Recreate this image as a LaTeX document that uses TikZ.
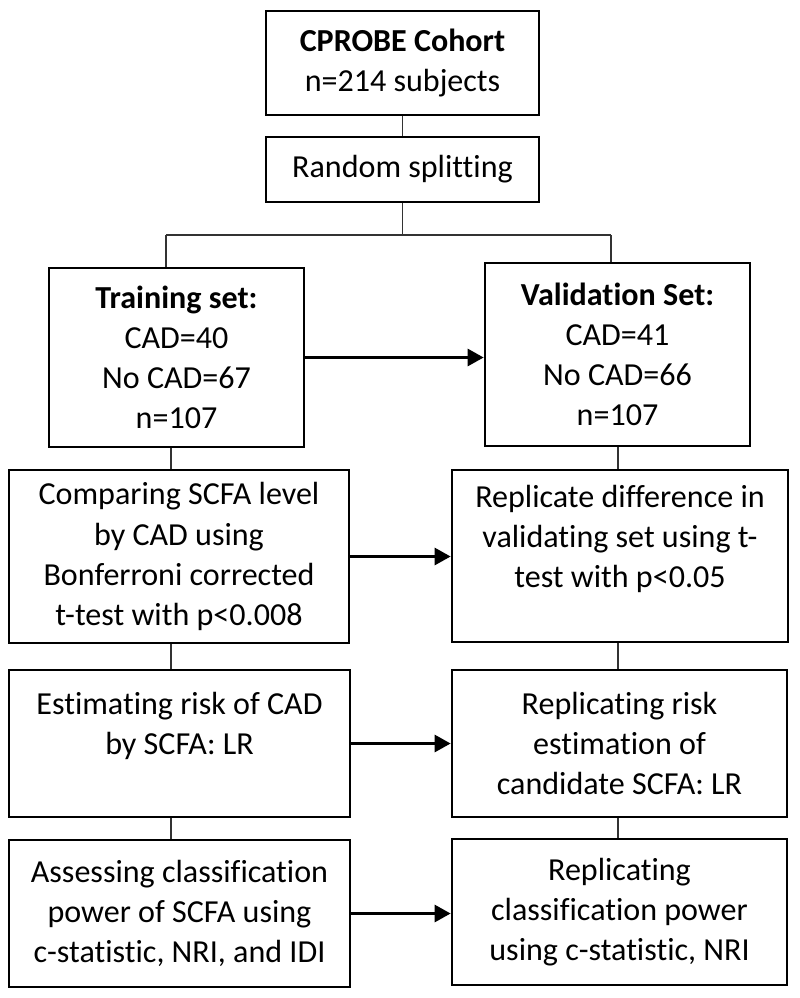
\documentclass[tikz,border=0pt]{standalone}
\usepackage{fontspec}
\setmainfont{Carlito}[Ligatures=NoCommon]
\usetikzlibrary{arrows.meta}

\begin{document}
\begin{tikzpicture}[x=0.025cm, y=-0.025cm,
  box/.style={draw, line width=1.8pt, align=center, inner sep=2pt,
    font=\fontsize{22.8}{28.5}\selectfont},
  link/.style={draw, line width=1pt, black!80},
  go/.style={line width=2.3pt, -{Triangle[length=0.4cm, width=0.42cm]}}]
\useasboundingbox (0,0) rectangle (800,998);
\node[box, minimum width=6.825cm, minimum height=2.6cm] (cohort) at (402.5,63) {\textbf{CPROBE Cohort}\\n=214 subjects};
\node[box, minimum width=6.825cm, minimum height=1.625cm] (split) at (402.5,169.5) {Random splitting};
\node[box, minimum width=6.375cm, minimum height=4.475cm] (train) at (176.5,357.5) {\textbf{Training set:}\\CAD=40\\No CAD=67\\n=107};
\node[box, minimum width=6.625cm, minimum height=4.575cm] (valid) at (617.5,354.5) {\textbf{Validation Set:}\\CAD=41\\No CAD=66\\n=107};
\node[box, minimum width=8.5cm, minimum height=4.325cm] (compare) at (179,556.5) {Comparing SCFA level\\by CAD using\\Bonferroni corrected\\t-test with p<0.008};
\node[box, minimum width=8.4cm, minimum height=4.3cm] (replicate) at (620,556) {Replicate difference in\\validating set using t-\\test with p<0.05\\\mbox{}};
\node[box, minimum width=8.525cm, minimum height=3.675cm] (estimate) at (179.5,743.5) {Estimating risk of CAD\\by SCFA: LR\\\mbox{}};
\node[box, minimum width=8.375cm, minimum height=3.675cm] (reprisk) at (619.5,743.5) {Replicating risk\\estimation of\\candidate SCFA: LR};
\node[box, minimum width=8.525cm, minimum height=3.675cm] (assess) at (179.5,913.5) {Assessing classification\\power of SCFA using\\c-statistic, NRI, and IDI};
\node[box, minimum width=8.375cm, minimum height=3.65cm] (repclass) at (619.5,912) {Replicating\\classification power\\using c-statistic, NRI};
\coordinate (forkL) at (166,235);
\coordinate (forkR) at (611,235);
\coordinate (lcol) at (171,0);
\coordinate (rcol) at (618,0);
\draw[link] (cohort) -- (split);
\draw[link] (split.south) -- (split.south |- forkL);
\draw[link] (forkL) -- (forkR);
\draw[link] (forkL) -- (forkL |- train.north);
\draw[link] (forkR) -- (forkR |- valid.north);
\draw[link] (train.south -| lcol) -- (compare.north -| lcol);
\draw[link] (compare.south -| lcol) -- (estimate.north -| lcol);
\draw[link] (estimate.south -| lcol) -- (assess.north -| lcol);
\draw[link] (valid.south -| rcol) -- (replicate.north -| rcol);
\draw[link] (replicate.south -| rcol) -- (reprisk.north -| rcol);
\draw[link] (reprisk.south -| rcol) -- (repclass.north -| rcol);
\draw[go] (train.east) -- (train.east -| valid.west);
\draw[go] (compare.east) -- (compare.east -| replicate.west);
\draw[go] (estimate.east) -- (estimate.east -| reprisk.west);
\draw[go] (assess.east) -- (assess.east -| repclass.west);
\end{tikzpicture}
\end{document}
